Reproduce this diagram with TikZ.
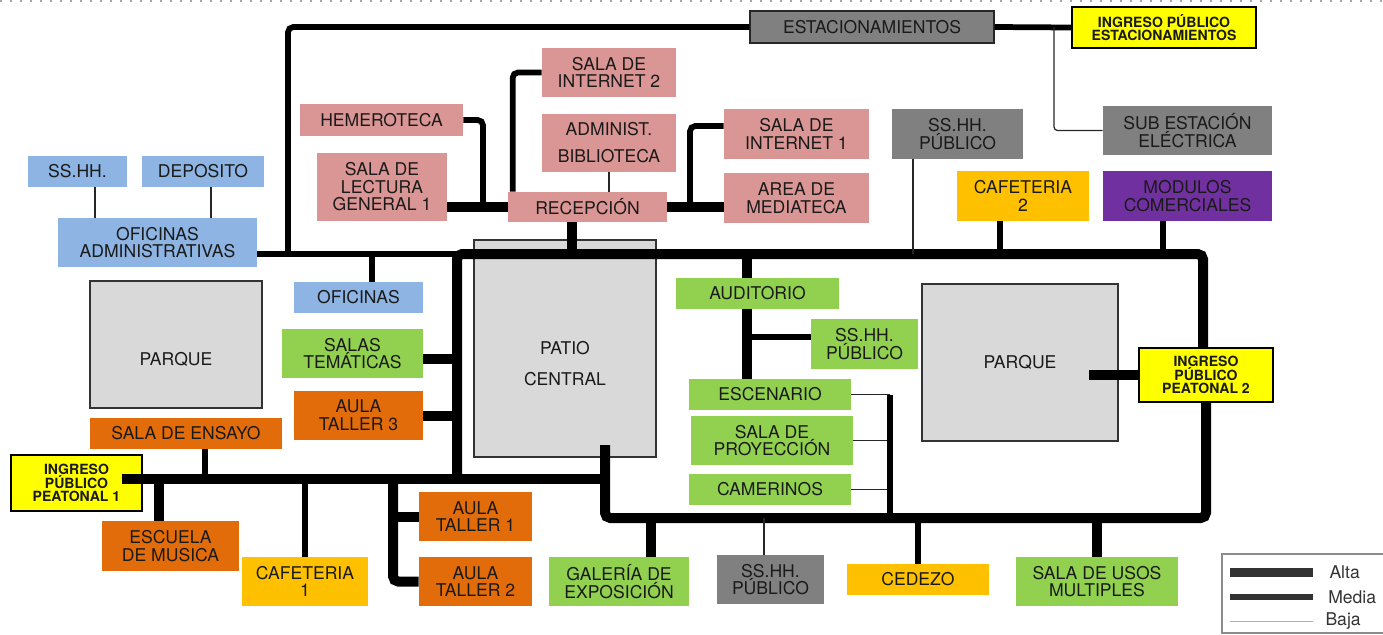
\documentclass[tikz,border=0pt]{standalone}
\usepackage{fontspec}
\setmainfont{TeX Gyre Heros}
\usetikzlibrary{positioning}
\definecolor{rosa}{HTML}{DA9694}
\definecolor{celeste}{HTML}{8DB4E2}
\definecolor{verde}{HTML}{92D050}
\definecolor{naranja}{HTML}{E36C0A}
\definecolor{ambar}{HTML}{FFC000}
\definecolor{plomo}{HTML}{808080}
\definecolor{morado}{HTML}{7030A0}
\definecolor{amarillo}{HTML}{FFFF00}
\definecolor{patiogris}{HTML}{D9D9D9}
\definecolor{textgray}{HTML}{1A1A1A}
\tikzset{
  zone/.style={
    rectangle,
    inner sep=0pt,
    align=center,
    text=textgray,
    font=\fontsize{10}{10}\selectfont
  },
  wh/.style 2 args={minimum width=#1mm, minimum height=#2mm},
  biblio/.style={zone, fill=rosa},
  admin/.style={zone, fill=celeste},
  cultura/.style={zone, fill=verde},
  taller/.style={zone, fill=naranja},
  comida/.style={zone, fill=ambar},
  servicio/.style={zone, fill=plomo},
  comercio/.style={zone, fill=morado},
  ingreso/.style={
    zone,
    fill=amarillo,
    draw=black,
    line width=0.45mm,
    font=\bfseries\fontsize{8}{7.7}\selectfont
  },
  abierto/.style={zone, fill=patiogris, draw=black!80, line width=0.3mm},
  alta/.style={line width=2mm, draw=black},
  media/.style={line width=1.15mm, draw=black},
  baja/.style={line width=0.25mm, draw=black!85}
}
\begin{document}
\begin{tikzpicture}[x=0.2mm, y=-0.2mm]
  \useasboundingbox (0,0) rectangle (1383,634);
  \draw[black!35, line width=0.3mm, dash pattern=on 0.3mm off 1.7mm] (0,1) -- (1383,1);

  % zonas abiertas
  \node[abierto, wh={36.4}{43.4}] (patio) at (565,348.5)
    {\raisebox{-1.2mm}[0pt][0pt]{\begin{tabular}[t]{@{}c@{}}PATIO\\[7pt]CENTRAL\end{tabular}}};
  \node[abierto, wh={34.4}{25.4}] (parqueoeste) at (176,344.5) {\raisebox{-4.2mm}[0pt][0pt]{PARQUE}};
  \node[abierto, wh={39.2}{31.4}] (parqueeste) at (1020,362.5) {PARQUE};

  % estacionamientos
  \node[servicio, draw=black!85, line width=0.3mm, wh={48.8}{6.4}] (estac) at (872,27) {ESTACIONAMIENTOS};
  \node[ingreso, wh={36.8}{8.2}] (ingest) at (1164,27.5) {INGRESO PÚBLICO\\ESTACIONAMIENTOS};
  \node[servicio, wh={33.8}{9.8}] (subest) at (1187.5,130.5) {SUB ESTACIÓN\\ELÉCTRICA};

  % administracion
  \node[admin, wh={19.8}{6.2}] (sshh) at (77.5,171.5) {SS.HH.};
  \node[admin, wh={24.4}{6.2}] (deposito) at (203,171.5) {DEPOSITO};
  \node[admin, wh={39.8}{9.8}] (ofadm) at (157.5,242.5) {OFICINAS\\ADMINISTRATIVAS};
  \node[admin, wh={25.8}{6.2}] (oficinas) at (358.5,297.5) {OFICINAS};

  % biblioteca
  \node[biblio, wh={32.6}{6.4}] (hemeroteca) at (381.5,120) {HEMEROTECA};
  \node[biblio, wh={26}{13.6}] (lectura) at (382,187) {SALA DE\\LECTURA\\GENERAL 1};
  \node[biblio, wh={31.8}{6}] (recepcion) at (587.5,207) {RECEPCIÓN};
  \node[biblio, wh={26.8}{9.8}] (internet2) at (609,72.5) {SALA DE\\INTERNET 2};
  \node[biblio, wh={26.8}{11.6}] (adminbib) at (609,143) {ADMINIST.\\[5.4pt]BIBLIOTECA};
  \node[biblio, wh={29}{10}] (internet1) at (796.5,134) {SALA DE\\INTERNET 1};
  \node[biblio, wh={29}{10}] (mediateca) at (796.5,198) {AREA DE\\MEDIATECA};

  \node[servicio, wh={26.2}{10}] (sshhnorte) at (957.5,134) {SS.HH.\\PÚBLICO};
  \node[comida, wh={26.4}{10}] (cafeteria2) at (1023,196) {CAFETERIA\\2};
  \node[comercio, wh={33.8}{10}] (modulos) at (1187.5,196) {MODULOS\\COMERCIALES};

  % auditorio
  \node[cultura, wh={32.6}{6.2}] (auditorio) at (757.5,293.5) {AUDITORIO};
  \node[cultura, wh={21.4}{10}] (sshhaudit) at (864.5,344) {SS.HH.\\PÚBLICO};
  \node[cultura, wh={32.4}{6.2}] (escenario) at (770,394.5) {ESCENARIO};
  \node[cultura, wh={32.4}{9.8}] (proyeccion) at (772,440.5) {SALA DE\\PROYECCIÓN};
  \node[cultura, wh={32.4}{6.2}] (camerinos) at (770,489.5) {CAMERINOS};

  % borde sur
  \node[cultura, wh={28}{9.8}] (galeria) at (619,581.5) {GALERÍA DE\\EXPOSICIÓN};
  \node[servicio, wh={21.4}{9.8}] (sshhsur) at (770.5,579.5) {SS.HH.\\PÚBLICO};
  \node[comida, wh={28.4}{6.2}] (cedezo) at (918,579.5) {CEDEZO};
  \node[cultura, wh={32.4}{9.8}] (usos) at (1097,581.5) {SALA DE USOS\\MULTIPLES};
  \node[ingreso, wh={26.8}{10.8}] (peatonal2) at (1206,375) {INGRESO\\PÚBLICO\\PEATONAL 2};

  % talleres
  \node[cultura, wh={28.2}{9.8}] (salas) at (352.5,353.5) {SALAS\\TEMÁTICAS};
  \node[taller, wh={25.8}{9.8}] (taller3) at (358.5,415.5) {AULA\\TALLER 3};
  \node[taller, wh={38.4}{6.2}] (ensayo) at (186,433.5) {SALA DE ENSAYO};
  \node[ingreso, wh={26.2}{11.2}] (peatonal1) at (76.5,483) {INGRESO\\PÚBLICO\\PEATONAL 1};
  \node[taller, wh={27.4}{10}] (musica) at (170.5,546) {ESCUELA\\DE MUSICA};
  \node[comida, wh={25.2}{9.8}] (cafeteria1) at (305,581.5) {CAFETERIA\\1};
  \node[taller, wh={22.6}{9.8}] (taller1) at (475.5,516.5) {AULA\\TALLER 1};
  \node[taller, wh={22.6}{9.8}] (taller2) at (475.5,581.5) {AULA\\TALLER 2};

  % circuito principal
  \coordinate (no) at (457,254);
  \coordinate (ne) at (1203,254);
  \coordinate (se) at (1206,518);
  \coordinate (so) at (605,518);
  \coordinate (ce) at (605,445);
  \coordinate (oe) at (457,479);
  \coordinate (pe) at (122,479);
  \draw[alta, rounded corners=3pt] (oe) -- (no) -- (ne) -- (ne |- peatonal2.north);
  \draw[alta, rounded corners=3pt] (se |- peatonal2.south) -- (se) -- (so) -- (ce);
  \draw[alta] (pe) -- (ce |- oe);

  % norte
  \coordinate (ea) at (288,254);
  \coordinate (eb) at (1054,27);
  \draw[media] (ofadm.east |- no) -- (no);
  \draw[media, rounded corners=3pt] (estac.west) -| (ea);
  \draw[media] (estac.east) -- (ingest.west);
  \draw[baja, rounded corners=2pt] (eb) |- (subest.west);
  \draw[baja] ([xshift=3.5mm]sshh.south) -- ++(0,31);
  \draw[baja] ([xshift=1.6mm]deposito.south) -- ++(0,31);
  \coordinate (of) at (372,254);
  \draw[media] (of) -- (of |- oficinas.north);

  \coordinate (hb) at (483,207);
  \coordinate (mb) at (690,207);
  \coordinate (rb) at (572,254);
  \draw[media, rounded corners=3pt] (hemeroteca.east) -| (hb);
  \draw[alta] (lectura.east |- recepcion.west) -- (recepcion.west);
  \draw[media, rounded corners=3pt] (internet2.west) -| ([xshift=1mm]recepcion.north west);
  \draw[baja] (adminbib.south) -- (adminbib.south |- recepcion.north);
  \draw[alta] (recepcion.east) -- (recepcion.east -| mediateca.west);
  \draw[media, rounded corners=3pt] ([yshift=1.6mm]internet1.west) -| (mb);
  \draw[alta] (rb) -- (rb |- recepcion.south);

  \coordinate (sn) at (913,254);
  \coordinate (cn) at (1000,254);
  \coordinate (mn) at (1163,254);
  \draw[baja] (sn) -- (sn |- sshhnorte.south);
  \draw[media] (cn) -- (cn |- cafeteria2.south);
  \draw[media] (mn) -- (mn |- modulos.south);

  % auditorio
  \coordinate (au) at (747,254);
  \coordinate (sa) at ([yshift=1.4mm]sshhaudit.west);
  \coordinate (ge) at (890,518);
  \draw[alta] (au) -- (au |- auditorio.north);
  \draw[alta] (au |- auditorio.south) -- (au |- escenario.north);
  \draw[media] (sa) -- (sa -| au);
  \foreach \n in {escenario,proyeccion,camerinos}
    \draw[baja] (\n.east) -- (\n.east -| ge);
  \draw[media] (ge |- escenario.east) -- (ge);

  % sur
  \coordinate (gs) at (651,518);
  \coordinate (hs) at (764,518);
  \coordinate (pq) at (1089,375);
  \draw[alta] (gs) -- (gs |- galeria.north);
  \draw[baja] (hs) -- (hs |- sshhsur.north);
  \draw[media] (cedezo.north) -- (cedezo.north |- se);
  \draw[alta] (usos.north) -- (usos.north |- se);
  \draw[alta] (pq) -- (peatonal2.west);

  % oeste
  \coordinate (ws) at (205,479);
  \coordinate (wm) at (159,479);
  \coordinate (wt) at (393,479);
  \draw[alta] ([yshift=-1.1mm]salas.east) -- ++(34,0);
  \draw[alta] (taller3.east) -- (taller3.east -| no);
  \draw[media] (ws) -- (ws |- ensayo.south);
  \draw[alta] (wm) -- (wm |- musica.north);
  \draw[media] (cafeteria1.north) -- (cafeteria1.north |- oe);
  \draw[alta, rounded corners=3pt] (wt) |- (taller2.west);
  \draw[alta] (wt |- taller1.west) -- (taller1.west);

  % leyenda
  \draw[black!45, line width=0.3mm] (1383,554) -| (1222,633) -- (1383,633);
  \foreach \y/\w/\c/\t in {572/1.8mm/black!80/Alta, 597/1.3mm/black!80/Media, 621/0.2mm/black!30/Baja}
    \draw[line width=\w, draw=\c] (1230,\y) -- (1313,\y)
      node[right=2.4mm, inner sep=0pt, text=black!80, font=\fontsize{10}{12}\selectfont] (ley\t) {\t};
\end{tikzpicture}
\end{document}
